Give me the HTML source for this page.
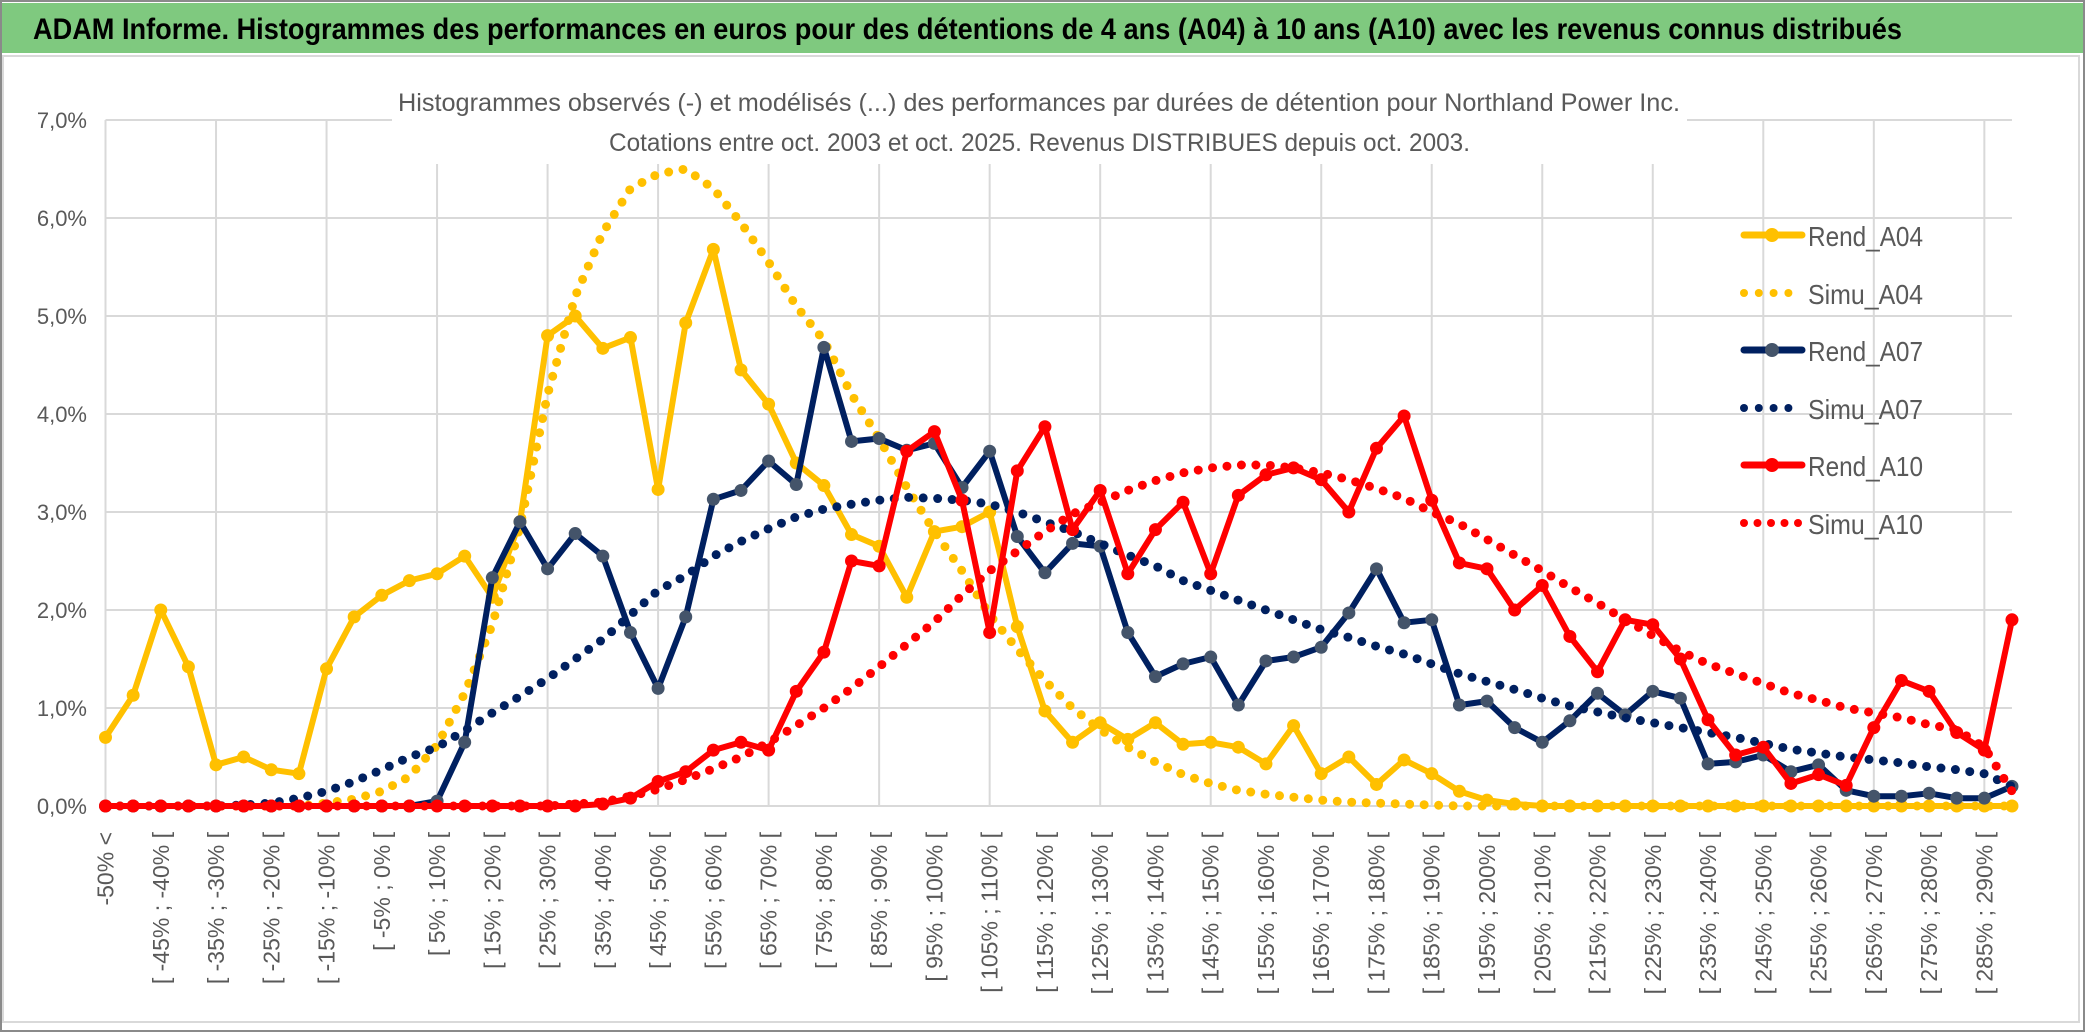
<!DOCTYPE html>
<html><head><meta charset="utf-8"><style>
html,body{margin:0;padding:0;background:#fff;}
svg{display:block;font-family:"Liberation Sans",sans-serif;}
</style></head><body>
<svg id="chart" width="2086" height="1033" viewBox="0 0 2086 1033" xmlns="http://www.w3.org/2000/svg">
<rect x="0" y="0" width="2086" height="1033" fill="#fff"/>
<rect x="1" y="1" width="2083" height="1030" fill="none" stroke="#8a8a8a" stroke-width="2"/>
<rect x="2" y="3" width="2081" height="50" fill="#7fc97f"/>
<text x="33" y="39" font-size="30" font-weight="bold" fill="#000" textLength="1869" lengthAdjust="spacingAndGlyphs">ADAM Informe. Histogrammes des performances en euros pour des détentions de 4 ans (A04) à 10 ans (A10) avec les revenus connus distribués</text>
<rect x="3" y="56" width="2076" height="966" fill="#fff" stroke="#d9d9d9" stroke-width="2"/>
<g id="grid"></g>
<rect x="392" y="84" width="1295" height="80" fill="#fff"/>
<text x="398" y="111" font-size="25" fill="#595959" textLength="1282" lengthAdjust="spacingAndGlyphs">Histogrammes observés (-) et modélisés (...) des performances par durées de détention pour Northland Power Inc.</text>
<text x="609" y="151" font-size="25" fill="#595959" textLength="861" lengthAdjust="spacingAndGlyphs">Cotations entre oct. 2003 et oct. 2025. Revenus DISTRIBUES depuis oct. 2003.</text>
<g id="yaxis"></g>
<g id="xaxis"></g>
<g id="series"></g>
<g id="legend"></g>
</svg>
<script>
const categories = ["-50% <","[ -50% ; -45% [","[ -45% ; -40% [","[ -40% ; -35% [","[ -35% ; -30% [","[ -30% ; -25% [","[ -25% ; -20% [","[ -20% ; -15% [","[ -15% ; -10% [","[ -10% ; -5% [","[ -5% ; 0% [","[ 0% ; 5% [","[ 5% ; 10% [","[ 10% ; 15% [","[ 15% ; 20% [","[ 20% ; 25% [","[ 25% ; 30% [","[ 30% ; 35% [","[ 35% ; 40% [","[ 40% ; 45% [","[ 45% ; 50% [","[ 50% ; 55% [","[ 55% ; 60% [","[ 60% ; 65% [","[ 65% ; 70% [","[ 70% ; 75% [","[ 75% ; 80% [","[ 80% ; 85% [","[ 85% ; 90% [","[ 90% ; 95% [","[ 95% ; 100% [","[ 100% ; 105% [","[ 105% ; 110% [","[ 110% ; 115% [","[ 115% ; 120% [","[ 120% ; 125% [","[ 125% ; 130% [","[ 130% ; 135% [","[ 135% ; 140% [","[ 140% ; 145% [","[ 145% ; 150% [","[ 150% ; 155% [","[ 155% ; 160% [","[ 160% ; 165% [","[ 165% ; 170% [","[ 170% ; 175% [","[ 175% ; 180% [","[ 180% ; 185% [","[ 185% ; 190% [","[ 190% ; 195% [","[ 195% ; 200% [","[ 200% ; 205% [","[ 205% ; 210% [","[ 210% ; 215% [","[ 215% ; 220% [","[ 220% ; 225% [","[ 225% ; 230% [","[ 230% ; 235% [","[ 235% ; 240% [","[ 240% ; 245% [","[ 245% ; 250% [","[ 250% ; 255% [","[ 255% ; 260% [","[ 260% ; 265% [","[ 265% ; 270% [","[ 270% ; 275% [","[ 275% ; 280% [","[ 280% ; 285% [","[ 285% ; 290% [","[ 290% ; 295% ["];
const yTicks = [0,1,2,3,4,5,6,7];
const yTickLabels = ["0,0%","1,0%","2,0%","3,0%","4,0%","5,0%","6,0%","7,0%"];
const rendA04 = [0.7,1.13,2.0,1.42,0.42,0.5,0.37,0.33,1.4,1.93,2.15,2.3,2.37,2.55,2.13,2.9,4.8,5.0,4.67,4.78,3.23,4.93,5.68,4.45,4.1,3.5,3.27,2.77,2.65,2.13,2.8,2.85,3.0,1.83,0.97,0.65,0.85,0.68,0.85,0.63,0.65,0.6,0.43,0.82,0.33,0.5,0.22,0.47,0.33,0.15,0.06,0.02,0,0,0,0,0,0,0,0,0,0,0,0,0,0,0,0,0,0];
const simuA04 = [0,0,0,0,0,0,0,0,0.03,0.07,0.15,0.3,0.62,1.15,1.85,2.85,4.2,5.2,5.85,6.3,6.45,6.5,6.3,5.95,5.55,5.1,4.75,4.2,3.75,3.25,2.8,2.4,1.95,1.6,1.28,1.0,0.78,0.6,0.45,0.32,0.23,0.16,0.12,0.09,0.06,0.04,0.03,0.02,0.01,0,0,0,0,0,0,0,0,0,0,0,0,0,0,0,0,0,0,0,0,0];
const rendA07 = [0,0,0,0,0,0,0,0,0,0,0,0,0.05,0.65,2.33,2.9,2.42,2.78,2.55,1.77,1.2,1.93,3.13,3.22,3.52,3.28,4.68,3.72,3.75,3.63,3.7,3.25,3.62,2.75,2.38,2.68,2.65,1.77,1.32,1.45,1.52,1.03,1.48,1.52,1.62,1.97,2.42,1.87,1.9,1.03,1.07,0.8,0.65,0.87,1.15,0.93,1.17,1.1,0.43,0.45,0.52,0.35,0.42,0.16,0.1,0.1,0.13,0.08,0.08,0.2];
const simuA07 = [0,0,0,0,0,0.01,0.03,0.08,0.15,0.25,0.37,0.5,0.6,0.77,0.95,1.12,1.3,1.5,1.7,1.95,2.2,2.35,2.55,2.7,2.83,2.95,3.03,3.08,3.12,3.15,3.14,3.12,3.08,3.0,2.9,2.8,2.68,2.56,2.45,2.3,2.2,2.1,2.0,1.9,1.8,1.72,1.63,1.55,1.45,1.35,1.27,1.19,1.1,1.02,0.96,0.9,0.85,0.8,0.75,0.7,0.64,0.58,0.54,0.5,0.47,0.44,0.4,0.37,0.33,0.2];
const rendA10 = [0,0,0,0,0,0,0,0,0,0,0,0,0,0,0,0,0,0,0.02,0.08,0.25,0.35,0.57,0.65,0.57,1.17,1.57,2.5,2.45,3.62,3.82,3.12,1.77,3.42,3.87,2.82,3.22,2.37,2.82,3.1,2.37,3.17,3.38,3.45,3.33,3.0,3.65,3.98,3.12,2.48,2.42,2.0,2.25,1.73,1.37,1.9,1.85,1.5,0.88,0.52,0.6,0.23,0.32,0.21,0.8,1.28,1.17,0.75,0.57,1.9];
const simuA10 = [0,0,0,0,0,0,0,0,0,0,0,0,0,0,0,0,0,0.02,0.04,0.1,0.17,0.27,0.38,0.5,0.65,0.82,1.0,1.2,1.42,1.65,1.88,2.15,2.4,2.6,2.8,2.98,3.1,3.22,3.32,3.4,3.45,3.48,3.48,3.45,3.4,3.33,3.24,3.14,3.0,2.88,2.72,2.56,2.4,2.23,2.07,1.9,1.74,1.58,1.45,1.35,1.25,1.15,1.08,1.0,0.95,0.9,0.83,0.78,0.6,0.15];

const NS="http://www.w3.org/2000/svg";
const X0=105.5, STEP=27.63, Y0=806, YS=98;
function xPos(i){return X0+i*STEP;}
function yPos(v){return Y0-v*YS;}
function mk(tag,attrs,parent){const e=document.createElementNS(NS,tag);for(const k in attrs)e.setAttribute(k,attrs[k]);parent.appendChild(e);return e;}

const grid=document.getElementById('grid');
yTicks.forEach(function(t){
  const l=mk('line',{x1:xPos(0),x2:xPos(categories.length-1),y1:yPos(t),y2:yPos(t),stroke:'#d9d9d9','stroke-width':2},grid);
  
  
});
for(let i=0;i<categories.length;i+=4){
  const l=mk('line',{x1:xPos(i),x2:xPos(i),y1:yPos(7),y2:yPos(0),stroke:'#d9d9d9','stroke-width':2},grid);
  
  
}
const yaxis=document.getElementById('yaxis');
yTicks.forEach(function(t,k){
  const tx=mk('text',{x:87,y:yPos(t)+8,'text-anchor':'end','font-size':22,fill:'#595959'},yaxis);
  tx.textContent=yTickLabels[k];
  
  
});
const xaxis=document.getElementById('xaxis');
categories.forEach(function(c,i){
  if(i%2!==0)return;
  const x=xPos(i)+8, y=832;
  const tx=mk('text',{x:x,y:y,'text-anchor':'end','font-size':23,fill:'#595959',transform:'rotate(-90 '+x+' '+y+')'},xaxis);
  tx.textContent=c;
  
  
});

const series=[
  {name:'Rend_A04',data:rendA04,color:'#ffc000',marker:'#ffc000',dotted:false},
  {name:'Simu_A04',data:simuA04,color:'#ffc000',dotted:true},
  {name:'Rend_A07',data:rendA07,color:'#002060',marker:'#44546a',dotted:false},
  {name:'Simu_A07',data:simuA07,color:'#002060',dotted:true},
  {name:'Rend_A10',data:rendA10,color:'#ff0000',marker:'#ff0000',dotted:false},
  {name:'Simu_A10',data:simuA10,color:'#ff0000',dotted:true}
];
const sg=document.getElementById('series');
series.forEach(function(s){
  const g=mk('g',{},sg);
  
  
  const pts=s.data.map(function(v,i){return xPos(i).toFixed(1)+','+yPos(v).toFixed(1);}).join(' ');
  const attrs={points:pts,fill:'none',stroke:s.color,'stroke-linejoin':'round','stroke-linecap':'round'};
  if(s.dotted){attrs['stroke-width']=9;attrs['stroke-dasharray']='0 14.5';}else{attrs['stroke-width']=6;}
  const pl=mk('polyline',attrs,g);
  
  
  if(!s.dotted){
    s.data.forEach(function(v,i){
      const c=mk('circle',{cx:xPos(i),cy:yPos(v),r:6.5,fill:s.marker},g);
      
      
    });
  }
});

const lg=document.getElementById('legend');
const legendY=[235,293,350,408,465,523];
series.forEach(function(s,k){
  const y=legendY[k];
  const g=mk('g',{},lg);
  
  
  if(s.dotted){
    const n=(k===5)?5:4;
    const sp=(k===5)?13.5:14.8;
    for(let j=0;j<n;j++){const d=mk('circle',{cx:1744+j*sp,cy:y,r:4,fill:s.color},g);
      
      }
  }else{
    const l=mk('line',{x1:1744,x2:1802,y1:y,y2:y,stroke:s.color,'stroke-width':7,'stroke-linecap':'round'},g);
    
    
    const c=mk('circle',{cx:1772,cy:y,r:7,fill:s.marker},g);
    
    
  }
  const t=mk('text',{x:1808,y:y+11,'font-size':28,fill:'#595959',textLength:115,lengthAdjust:'spacingAndGlyphs'},g);
  t.textContent=s.name;
  
  
});
</script>
</body></html>
